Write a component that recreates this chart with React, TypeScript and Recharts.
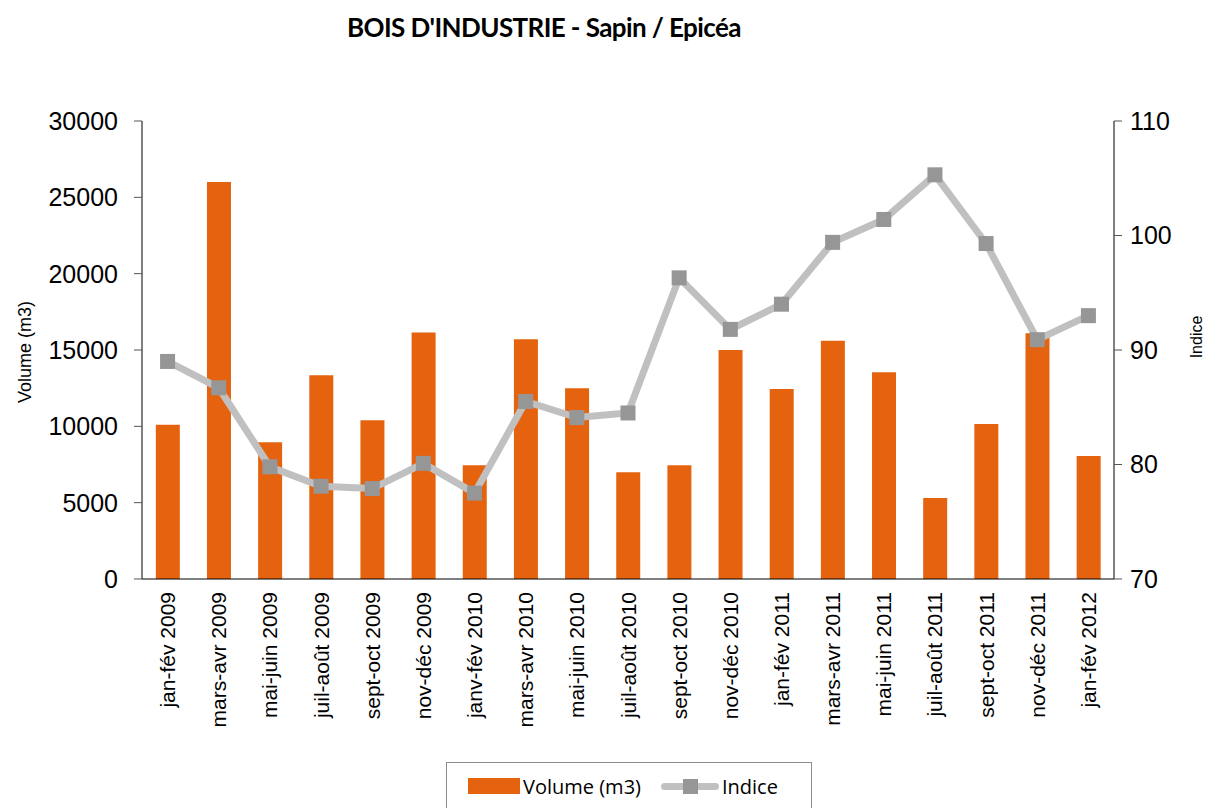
import React from 'react'
import {
  ComposedChart, Bar, Line, XAxis, YAxis, Legend,
} from 'recharts'

const PERIODS = [
  'jan-fév 2009', 'mars-avr 2009', 'mai-juin 2009', 'juil-août 2009', 'sept-oct 2009',
  'nov-déc 2009', 'janv-fév 2010', 'mars-avr 2010', 'mai-juin 2010', 'juil-août 2010',
  'sept-oct 2010', 'nov-déc 2010', 'jan-fév 2011', 'mars-avr 2011', 'mai-juin 2011',
  'juil-août 2011', 'sept-oct 2011', 'nov-déc 2011', 'jan-fév 2012',
]

const VOLUME = [
  10100, 26000, 8950, 13350, 10400, 16150, 7450, 15700, 12500, 7000,
  7450, 15000, 12450, 15600, 13550, 5300, 10150, 16100, 8050,
]

const INDICE = [
  89.0, 86.7, 79.8, 78.1, 77.9, 80.1, 77.5, 85.5, 84.1, 84.5,
  96.3, 91.8, 94.0, 99.4, 101.4, 105.3, 99.3, 90.9, 93.0,
]

const VOLUME_TICKS = [0, 5000, 10000, 15000, 20000, 25000, 30000]
const INDICE_TICKS = [70, 80, 90, 100, 110]
const BOUNDARY_TICKS = [0, 1, 2, 3, 4, 5, 6, 7, 8, 9, 10, 11, 12, 13, 14, 15, 16, 17, 18, 19]

const data = PERIODS.map((name, i) => ({ name, volume: VOLUME[i], indice: INDICE[i] }))

const ORANGE = '#E5630F'
const LINE_GRAY = '#C0C0C0'
const MARK_GRAY = '#969696'
const FONT = '"Liberation Sans", Arial, sans-serif'

function SquareDot(props: any) {
  const { cx, cy } = props
  if (cx == null || cy == null) return null
  return <rect x={cx - 7.5} y={cy - 7.5} width={15} height={15} fill={MARK_GRAY} />
}

function PeriodTick(props: any) {
  const { x, y, payload } = props
  return (
    <text
      x={x}
      y={y}
      transform={`rotate(-90 ${x} ${y})`}
      textAnchor="end"
      dominantBaseline="central"
      fontFamily={FONT}
      fontSize={21}
      fill="#000"
    >
      {payload.value}
    </text>
  )
}

function LegendBox() {
  return (
    <div
      style={{
        width: 366, height: 50, boxSizing: 'border-box', border: '1px solid #8c8c8c',
        display: 'flex', alignItems: 'center', paddingLeft: 21, paddingBottom: 2,
        fontFamily: '"Open Sans", sans-serif', fontSize: 20, color: '#000',
      }}
    >
      <span style={{ width: 52, height: 16, background: ORANGE, marginRight: 3 }} />
      <span>Volume (m3)</span>
      <span style={{ position: 'relative', width: 58, height: 16, marginLeft: 20, marginRight: 3 }}>
        <span style={{ position: 'absolute', left: 0, right: 0, top: 5, height: 7, borderRadius: 4, background: LINE_GRAY }} />
        <span style={{ position: 'absolute', left: 22, top: 1, width: 15, height: 15, background: MARK_GRAY }} />
      </span>
      <span>Indice</span>
    </div>
  )
}

export default function App() {
  return (
    <div style={{ position: 'absolute', left: 0, top: 0, width: 1207, height: 808, background: '#fff', overflow: 'hidden' }}>
      <div
        style={{
          position: 'absolute', left: 347, top: 11, width: 420, whiteSpace: 'nowrap',
          fontFamily: 'Lato, sans-serif', fontWeight: 700, fontSize: 26, letterSpacing: -0.6, color: '#000',
        }}
      >
        BOIS D'INDUSTRIE - Sapin / Epicéa
      </div>
      <ComposedChart
        width={1207}
        height={808}
        data={data}
        margin={{ top: 121, right: 13, bottom: 79, left: 62 }}
        barCategoryGap="27%"
      >
        <XAxis
          xAxisId="bounds"
          type="number"
          domain={[0, 19]}
          ticks={BOUNDARY_TICKS}
          allowDataOverflow
          height={0}
          axisLine={false}
          tick={false}
          tickLine={{ stroke: '#888' }}
          tickSize={7}
        />
        <XAxis
          dataKey="name"
          interval={0}
          height={150}
          axisLine={{ stroke: '#000' }}
          tickLine={false}
          tickSize={0}
          tickMargin={13}
          tick={<PeriodTick />}
        />
        <YAxis
          yAxisId="left"
          domain={[0, 30000]}
          ticks={VOLUME_TICKS}
          width={80}
          axisLine={{ stroke: '#000' }}
          tickLine={{ stroke: '#555' }}
          tickSize={8}
          tickMargin={16}
          tick={{ fontFamily: FONT, fontSize: 25, fill: '#000' }}
          label={{
            content: () => (
              <text x={25} y={352} transform="rotate(-90 25 352)" textAnchor="middle" dominantBaseline="central"
                fontFamily={FONT} fontSize={18} fill="#000">Volume (m3)</text>
            ),
          }}
        />
        <YAxis
          yAxisId="right"
          orientation="right"
          domain={[70, 110]}
          ticks={INDICE_TICKS}
          width={80}
          axisLine={{ stroke: '#000' }}
          tickLine={{ stroke: '#555' }}
          tickSize={8}
          tickMargin={8}
          tick={{ fontFamily: FONT, fontSize: 25, fill: '#000' }}
          label={{
            content: () => (
              <text x={1196} y={337} transform="rotate(-90 1196 337)" textAnchor="middle" dominantBaseline="central"
                fontFamily={FONT} fontSize={16} fill="#000">Indice</text>
            ),
          }}
        />
        <Bar yAxisId="left" dataKey="volume" name="Volume (m3)" fill={ORANGE} isAnimationActive={false} />
        <Line
          yAxisId="right"
          dataKey="indice"
          name="Indice"
          stroke={LINE_GRAY}
          strokeWidth={7}
          dot={<SquareDot />}
          activeDot={false}
          isAnimationActive={false}
        />
        <Legend
          layout="horizontal"
          verticalAlign="middle"
          align="center"
          content={() => <LegendBox />}
          wrapperStyle={{ position: 'absolute', left: 446, top: 762, width: 366, height: 50 }}
        />
      </ComposedChart>
    </div>
  )
}
